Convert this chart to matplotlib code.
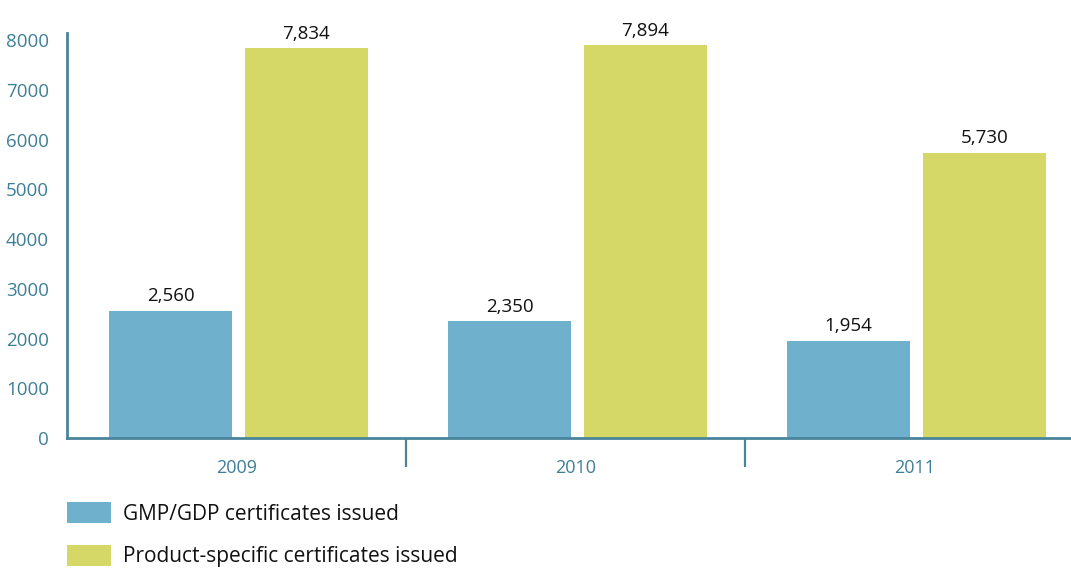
import matplotlib.pyplot as plt
import numpy as np
from matplotlib.patches import Patch

plt.rcParams['font.family'] = ['Open Sans', 'DejaVu Sans']

years = ['2009', '2010', '2011']
gmp_gdp = [2560, 2350, 1954]
product_specific = [7834, 7894, 5730]
series_labels = ['GMP/GDP certificates issued',
                 'Product-specific certificates issued']

BLUE = '#6fb1cd'
YELLOW = '#d5d867'
AXIS = '#4a849b'
TICK_TEXT = '#3e7f97'

W, H = 1071, 571


def main():
    fig = plt.figure(figsize=(W / 100, H / 100), dpi=100)
    # axes span from x=67 px to beyond right edge, y from 33 to 438 px
    left, right = 67, 67 + 3 * 339
    top, bottom = 33, 438
    ax = fig.add_axes([left / W, 1 - bottom / H,
                       (right - left) / W, (bottom - top) / H])

    x = np.arange(len(years))
    width = 0.363
    offset = 0.2
    shift = 0.006
    b1 = ax.bar(x - offset + shift, gmp_gdp, width, color=BLUE)
    b2 = ax.bar(x + offset + shift, product_specific, width, color=YELLOW)

    for bars in (b1, b2):
        for rect in bars:
            val = rect.get_height()
            ax.text(rect.get_x() + rect.get_width() / 2, val + 110,
                    f'{val:,.0f}', ha='center', va='bottom',
                    fontsize=13.5, color='#111111')

    ax.set_xlim(-0.5, 2.5)
    ax.set_ylim(0, 8141)
    ax.set_yticks(np.arange(0, 8001, 1000))
    ax.tick_params(axis='y', length=0, pad=13, labelsize=13.5,
                   labelcolor=TICK_TEXT)
    ax.set_xticks(x)
    ax.set_xticklabels(years)
    ax.tick_params(axis='x', length=0, pad=15, labelsize=13,
                   labelcolor=TICK_TEXT)
    # separators between year groups
    ax.set_xticks([0.5, 1.5], minor=True)
    ax.tick_params(axis='x', which='minor', length=21, width=1.6,
                   color=AXIS, direction='out')

    for side in ('top', 'right'):
        ax.spines[side].set_visible(False)
    for side in ('left', 'bottom'):
        ax.spines[side].set_color(AXIS)
        ax.spines[side].set_linewidth(2)

    handles = [Patch(facecolor=BLUE), Patch(facecolor=YELLOW)]
    fs = 15
    px = fs * 100 / 72
    fig.legend(handles, series_labels, loc='upper left',
               bbox_to_anchor=(67 / W, 1 - 502 / H),
               bbox_transform=fig.transFigure,
               frameon=False, fontsize=fs, borderpad=0, borderaxespad=0,
               handlelength=44 / px, handleheight=25 / px,
               handletextpad=12 / px, labelspacing=0.95,
               labelcolor='#111111')

    fig.savefig('out.png', dpi=100)
    plt.close(fig)


if __name__ == '__main__':
    main()
